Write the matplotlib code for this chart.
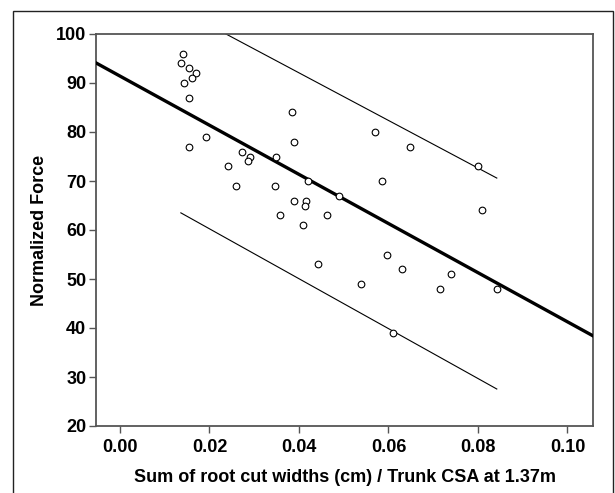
import matplotlib
matplotlib.use("Agg")
import matplotlib.pyplot as plt
from matplotlib.patches import Rectangle
import numpy as np

plt.rcParams['font.family'] = ['Liberation Sans', 'DejaVu Sans']

# observed trees: root cut ratio vs normalized force
cut_ratio = [0.01414, 0.01363, 0.01541, 0.01698, 0.01602, 0.01430, 0.01541,
             0.03835, 0.01914, 0.03893, 0.01541, 0.02718, 0.02910, 0.02859,
             0.03478, 0.02406, 0.02591, 0.03462, 0.04206, 0.04898, 0.03880,
             0.04155, 0.04132, 0.05702, 0.06471, 0.07996, 0.05859, 0.03581,
             0.04617, 0.04094, 0.08079, 0.05970, 0.04423, 0.06292, 0.07393,
             0.05376, 0.07154, 0.08414, 0.06105]
force = [96, 94, 93, 92, 91, 90, 87,
         84, 79, 78, 77, 76, 75, 74,
         75, 73, 69, 69, 70, 67, 66,
         66, 65, 80, 77, 73, 70, 63,
         63, 61, 64, 55, 53, 52, 51,
         49, 48, 48, 39]

# fit line and prediction interval
fit_x = [-0.00536, 0.1057]
fit_y = [94.1, 38.4]
band_x = [0.0136, 0.0842]
upper_y = [104.9, 70.6]
lower_y = [63.5, 27.55]

xticks = [0.00, 0.02, 0.04, 0.06, 0.08, 0.10]
yticks = [20, 30, 40, 50, 60, 70, 80, 90, 100]

fig = plt.figure(figsize=(6.15, 4.93), dpi=100)
fig.patches.append(Rectangle((13 / 615, -0.05), 600 / 615, 1.05 - 11 / 493,
                             transform=fig.transFigure, fill=False,
                             edgecolor='#222222', linewidth=1))
ax = fig.add_axes([96 / 615, 1 - 426 / 493, 497 / 615, 392 / 493])

ax.plot(fit_x, fit_y, color='black', linewidth=2.4, zorder=3)
ax.plot(band_x, upper_y, color='black', linewidth=0.8, zorder=2)
ax.plot(band_x, lower_y, color='black', linewidth=0.8, zorder=2)
ax.plot(cut_ratio, force, linestyle='none', marker='o', markersize=4.8,
        markerfacecolor='white', markeredgecolor='black',
        markeredgewidth=0.8, zorder=4)

ax.set_xlim(-0.00536, 0.1057)
ax.set_ylim(20, 100)
ax.set_xticks(xticks)
ax.set_xticklabels([f'{t:.2f}' for t in xticks])
ax.set_yticks(yticks)
for s in ax.spines.values():
    s.set_color('#555555')
    s.set_linewidth(1.3)
ax.tick_params(length=5, width=1, color='#555555', labelsize=13, pad=2)
ax.tick_params(axis='x', pad=4)
for lab in ax.get_xticklabels() + ax.get_yticklabels():
    lab.set_fontweight('bold')

ax.set_xlabel('Sum of root cut widths (cm) / Trunk CSA at 1.37m',
              fontsize=13, fontweight='bold', labelpad=10)
ax.set_ylabel('Normalized Force', fontsize=13, fontweight='bold',
              labelpad=6)

plt.savefig('out.png', dpi=100)
